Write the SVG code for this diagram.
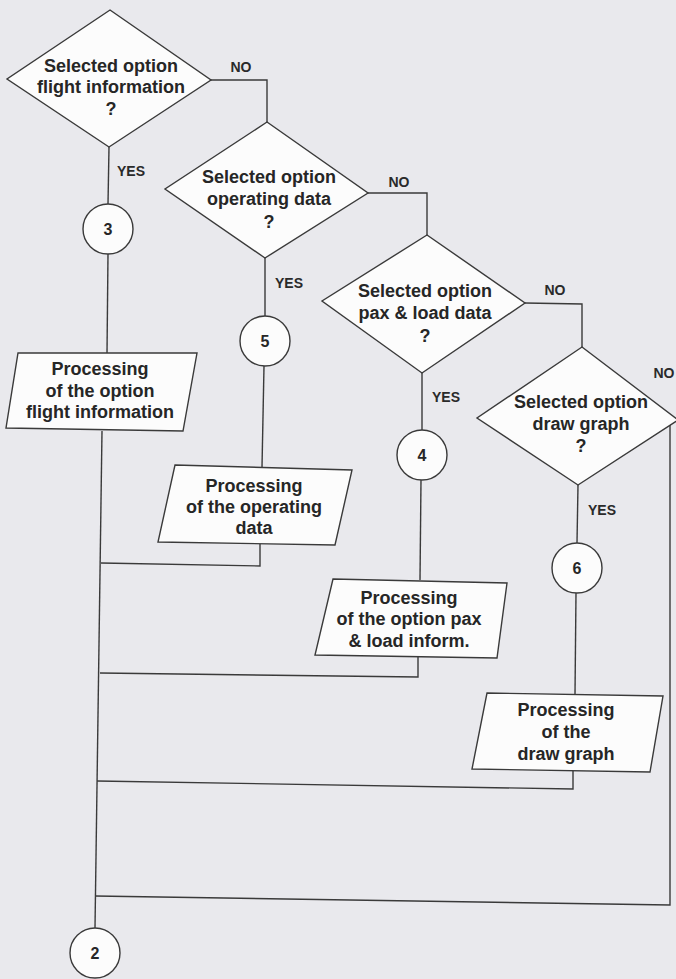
<svg xmlns="http://www.w3.org/2000/svg" width="676" height="979" viewBox="0 0 676 979">
<style>
.bg{fill:#e9e9ed}
.shape{fill:#fcfcfc;stroke:#3a3a3a;stroke-width:1.4}
.line{fill:none;stroke:#3a3a3a;stroke-width:1.4}
.t{font-family:"Liberation Sans",Arial,sans-serif;font-weight:bold;font-size:18px;fill:#262626;text-anchor:middle}
.lbl{font-family:"Liberation Sans",Arial,sans-serif;font-weight:bold;font-size:14px;fill:#2a2a2a;text-anchor:middle}
.num{font-family:"Liberation Sans",Arial,sans-serif;font-weight:bold;font-size:16px;fill:#262626;text-anchor:middle}
</style>
<rect class="bg" x="0" y="0" width="676" height="979"/>
<g id="connectors">
  <polyline class="line" points="211,80 267,80 267,122"/>
  <polyline class="line" points="368,193 427,193 427,235"/>
  <polyline class="line" points="525,303 582,304 582,347"/>
  <polyline class="line" points="670,424 670,905 95,896"/>
  <line class="line" x1="109" y1="147" x2="108" y2="204"/>
  <line class="line" x1="108" y1="254" x2="107" y2="353"/>
  <line class="line" x1="102" y1="431" x2="95" y2="928"/>
  <line class="line" x1="265" y1="258" x2="265" y2="316"/>
  <line class="line" x1="264" y1="366" x2="262" y2="467"/>
  <polyline class="line" points="260,544 260,566 101,563"/>
  <line class="line" x1="422" y1="373" x2="422" y2="430"/>
  <line class="line" x1="421" y1="480" x2="420" y2="580"/>
  <polyline class="line" points="418,657 418,677 100,673"/>
  <line class="line" x1="578" y1="485" x2="577" y2="543"/>
  <line class="line" x1="576" y1="593" x2="575" y2="694"/>
  <polyline class="line" points="573,771 573,789 97,781"/>
  <text class="lbl" x="241" y="72">NO</text>
  <text class="lbl" x="399" y="187">NO</text>
  <text class="lbl" x="555" y="295">NO</text>
  <text class="lbl" x="664" y="378">NO</text>
  <text class="lbl" x="131" y="176">YES</text>
  <text class="lbl" x="289" y="288">YES</text>
  <text class="lbl" x="446" y="402">YES</text>
  <text class="lbl" x="602" y="515">YES</text>
</g>
<g id="d1">
  <polygon class="shape" points="110,10 211,80 109,147 7,79"/>
  <text class="t" x="111" y="72">Selected option</text>
  <text class="t" x="111" y="93">flight information</text>
  <text class="t" x="111" y="115">?</text>
</g>
<g id="d2">
  <polygon class="shape" points="267,122 368,193 265,258 165,189"/>
  <text class="t" x="269" y="183">Selected option</text>
  <text class="t" x="269" y="205">operating data</text>
  <text class="t" x="269" y="228">?</text>
</g>
<g id="d3">
  <polygon class="shape" points="427,235 525,303 422,373 322,301"/>
  <text class="t" x="425" y="297">Selected option</text>
  <text class="t" x="425" y="319">pax &amp; load data</text>
  <text class="t" x="425" y="342">?</text>
</g>
<g id="d4">
  <polygon class="shape" points="582,347 678,420 578,485 477,418"/>
  <text class="t" x="581" y="408">Selected option</text>
  <text class="t" x="581" y="430">draw graph</text>
  <text class="t" x="581" y="452">?</text>
</g>
<g id="c3">
  <circle class="shape" cx="108" cy="229" r="25"/>
  <text class="num" x="108" y="235">3</text>
</g>
<g id="c5">
  <circle class="shape" cx="265" cy="341" r="25"/>
  <text class="num" x="265" y="347">5</text>
</g>
<g id="c4">
  <circle class="shape" cx="422" cy="455" r="25"/>
  <text class="num" x="422" y="461">4</text>
</g>
<g id="c6">
  <circle class="shape" cx="577" cy="568" r="25"/>
  <text class="num" x="577" y="574">6</text>
</g>
<g id="c2">
  <circle class="shape" cx="95" cy="953" r="25"/>
  <text class="num" x="95" y="959">2</text>
</g>
<g id="p1">
  <polygon class="shape" points="18,353 197,353 183,431 6,428"/>
  <text class="t" x="100" y="375">Processing</text>
  <text class="t" x="100" y="397">of the option</text>
  <text class="t" x="100" y="418">flight information</text>
</g>
<g id="p2">
  <polygon class="shape" points="175,465 352,470 335,545 158,542"/>
  <text class="t" x="254" y="492">Processing</text>
  <text class="t" x="254" y="513">of the operating</text>
  <text class="t" x="254" y="534">data</text>
</g>
<g id="p3">
  <polygon class="shape" points="333,579 507,583 497,658 315,655"/>
  <text class="t" x="409" y="604">Processing</text>
  <text class="t" x="409" y="625">of the option pax</text>
  <text class="t" x="409" y="647">&amp; load inform.</text>
</g>
<g id="p4">
  <polygon class="shape" points="487,693 663,696 650,772 472,769"/>
  <text class="t" x="566" y="716">Processing</text>
  <text class="t" x="566" y="738">of the</text>
  <text class="t" x="566" y="760">draw graph</text>
</g>
</svg>
